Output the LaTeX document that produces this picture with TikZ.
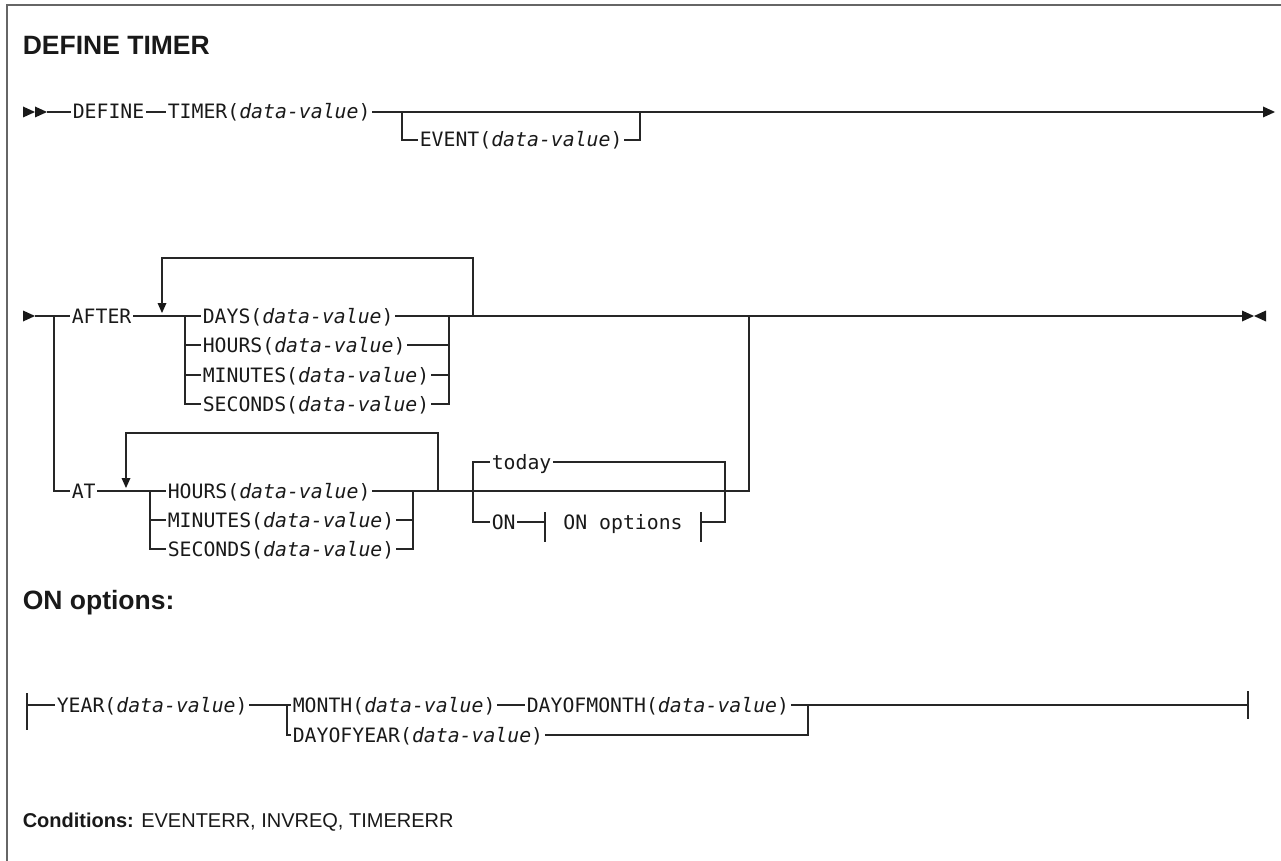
\documentclass[tikz,border=0pt]{standalone}
\usepackage{fontspec}
\setmainfont{Liberation Sans}
\newfontfamily\kwfont{DejaVu Sans Mono}
\usetikzlibrary{positioning}

\newcommand\dval{(\textit{data-value})}

\begin{document}
\begin{tikzpicture}[
    x=1pt, y=-1pt,
    line width=1.6pt,
    every node/.style={inner sep=0pt, text=black!90},
    kw/.style={font=\kwfont\fontsize{19.8}{22}\selectfont, inner xsep=1pt, text height=14pt, text depth=0pt, anchor=west},
    head/.style={font=\fontsize{26.5}{30}\selectfont\bfseries, anchor=base west},
    ln/.style={draw=black!85},
    rtri/.pic={\fill[black!90] (0,-5.5) -- (12,0) -- (0,5.5) -- cycle;},
    ltri/.pic={\fill[black!90] (12,-5.5) -- (0,0) -- (12,5.5) -- cycle;},
    dtri/.pic={\fill[black!90] (-4.5,-10) -- (4.5,-10) -- (0,0) -- cycle;}
]
\useasboundingbox (0,0) rectangle (1281,861);
\draw[black!60, line width=1.4pt] (7,861) -- (7,5) -- (1281,5);
\node[head] (title) at (22,55) {DEFINE TIMER};
% First line: DEFINE TIMER with optional EVENT
\pic at (23,112) {rtri};
\pic at (35,112) {rtri};
\coordinate (s1) at (47,112);
\node[kw] (define) at (71,112) {DEFINE};
\node[kw] (timer) at (166,112) {TIMER\dval};
\coordinate (evA) at (402,112);
\coordinate (evB) at (640,112);
\node[kw] (event) at (418,140) {EVENT\dval};
\coordinate (e1) at (1263,112);
\pic at (e1) {rtri};
\draw[ln] (s1) -- (define) (define) -- (timer) (timer) -- (e1);
\draw[ln] (evA) |- (event.west) (event.east) -| (evB);
% Second line: AFTER branch
\pic at (23,316) {rtri};
\coordinate (s2) at (35,316);
\coordinate (j2) at (54,316);
\node[kw] (after) at (70,316) {AFTER};
\coordinate (lpTipA) at (162,304);
\pic at (162,313) {dtri};
\coordinate (brA) at (185,316);
\node[kw] (days) at (201,316) {DAYS\dval};
\node[kw] (hoursA) at (201,345) {HOURS\dval};
\node[kw] (minA) at (201,375) {MINUTES\dval};
\node[kw] (secA) at (201,404) {SECONDS\dval};
\coordinate (brB) at (449,316);
\coordinate (lpB) at (473,316);
\coordinate (mg) at (749,316);
\coordinate (e2) at (1242,316);
\pic at (e2) {rtri};
\pic at (1254,316) {ltri};
\draw[ln] (s2) -- (after) (after) -- (days) (days) -- (e2);
\draw[ln] (brA) |- (secA.west) (brA |- hoursA.west) -- (hoursA.west) (brA |- minA.west) -- (minA.west);
\draw[ln] (hoursA.east) -| (brB) (minA.east) -| (brB) (secA.east) -| (brB);
\draw[ln] (lpB) -- ++(0,-58) -| (lpTipA);
% AT branch
\node[kw] (atkw) at (70,491) {AT};
\coordinate (lpTipC) at (126,479);
\pic at (126,488) {dtri};
\coordinate (brC) at (150,491);
\node[kw] (hoursB) at (166,491) {HOURS\dval};
\node[kw] (minB) at (166,520) {MINUTES\dval};
\node[kw] (secB) at (166,549) {SECONDS\dval};
\coordinate (brD) at (413,491);
\coordinate (lpD) at (438,491);
\coordinate (tdA) at (473,491);
\coordinate (tdB) at (725,491);
\node[kw] (today) at (490,462) {today};
\node[kw] (on) at (490,522) {ON};
\coordinate (obL) at (545,522);
\coordinate (obR) at (701,522);
\node[kw, anchor=center] (onopt) at (623,522) {ON options};
\draw[ln] (j2) |- (atkw) (atkw) -- (hoursB) (hoursB.east) -| (mg);
\draw[ln] (brC) |- (secB.west) (brC |- minB.west) -- (minB.west);
\draw[ln] (minB.east) -| (brD) (secB.east) -| (brD);
\draw[ln] (lpD) -- ++(0,-58) -| (lpTipC);
\draw[ln] (on.west) -| (tdA) |- (today.west) (today.east) -| (tdB);
\draw[ln] (on) -- (obL) (obR) -| (tdB);
\draw[ln] (obL) ++(0,-10) -- ++(0,30) (obR) ++(0,-10) -- ++(0,30);
% ON options fragment
\node[head] (onhead) at (22,609) {ON options:};
\coordinate (o1) at (27,705);
\node[kw] (year) at (55,705) {YEAR\dval};
\coordinate (brE) at (287,705);
\node[kw] (month) at (291,705) {MONTH\dval};
\node[kw] (dom) at (525,705) {DAYOFMONTH\dval};
\node[kw] (doy) at (291,735) {DAYOFYEAR\dval};
\coordinate (brF) at (808,705);
\coordinate (o2) at (1248,705);
\draw[ln] (o1) -- (year) (year) -- (month) (month) -- (dom) (dom) -- (o2);
\draw[ln] (brE) |- (doy.west) (doy.east) -| (brF);
\draw[ln] (o1) ++(0,-12) -- ++(0,37) (o2) ++(0,-14) -- ++(0,28);
% Conditions
\node[anchor=base west, font=\fontsize{20}{24}\selectfont] (cond) at (22,827) {\textbf{Conditions:} EVENTERR, INVREQ, TIMERERR};
\end{tikzpicture}
\end{document}
